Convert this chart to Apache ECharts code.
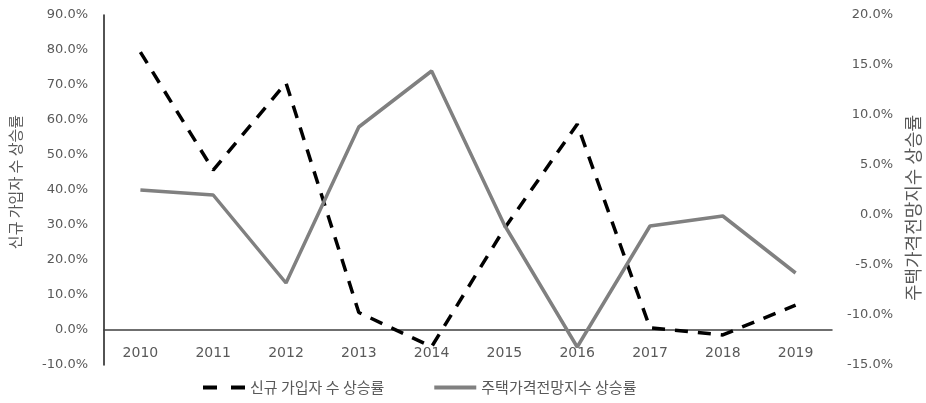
<!DOCTYPE html>
<html>
<head>
<meta charset="utf-8">
<script src="https://cdn.jsdelivr.net/npm/echarts@6/dist/echarts.min.js"></script>
<style>
html,body{margin:0;padding:0;background:#fff;}
#chart{width:926px;height:403px;}
</style>
</head>
<body>
<div id="chart"></div>
<script>
const categories = ['2010','2011','2012','2013','2014','2015','2016','2017','2018','2019'];
const seriesNames = ['신규 가입자 수 상승률', '주택가격전망지수 상승률'];
const subscriberGrowth = [79.4, 45.7, 70.6, 5.0, -4.8, 29.0, 58.8, 0.6, -1.4, 7.1];
const priceOutlookGrowth = [2.5, 2.0, -6.8, 8.8, 14.4, -1.0, -13.2, -1.1, -0.1, -5.8];
const leftTitle = '신규 가입자 수 상승률';
const rightTitle = '주택가격전망지수 상승률';

const chart = echarts.init(document.getElementById('chart'), null, {renderer: 'canvas'});
const numFont = 'DejaVu Sans';
const krFont = '"Noto Sans CJK KR", "Noto Sans", sans-serif';
chart.setOption({
  animation: false,
  backgroundColor: '#ffffff',
  grid: {left: 104, right: 94, top: 15, bottom: 38, containLabel: false, outerBoundsMode: 'none'},
  legend: {
    left: 203, top: 380, padding: 0,
    itemWidth: 42, itemHeight: 4, itemGap: 50,
    textStyle: {color: '#595959', fontSize: 15, fontFamily: krFont},
    data: [
      {name: seriesNames[0], icon: 'path://M0,0h14v4h-14z M28,0h14v4h-14z', itemStyle: {color: '#000000'}},
      {name: seriesNames[1], icon: 'path://M0,0h42v4h-42z', itemStyle: {color: '#808080'}}
    ]
  },
  xAxis: {
    type: 'category',
    data: categories,
    axisLine: {onZero: true, lineStyle: {color: '#404040', width: 1.5}},
    axisTick: {show: false},
    axisLabel: {color: '#595959', fontSize: 14, fontFamily: numFont, margin: -19}
  },
  yAxis: [
    {
      type: 'value', min: -10, max: 90, interval: 10,
      name: leftTitle, nameLocation: 'middle', nameRotate: 90, nameGap: 81,
      nameTextStyle: {color: '#595959', fontSize: 15, fontFamily: krFont, padding: [0, 0, 0, 16]},
      axisLine: {show: true, lineStyle: {color: '#1a1a1a', width: 1.5}},
      axisTick: {show: false},
      splitLine: {show: false},
      axisLabel: {color: '#595959', fontSize: 13, fontFamily: numFont, margin: 16,
        formatter: v => v.toFixed(1) + '%'}
    },
    {
      type: 'value', min: -15, max: 20, interval: 5,
      name: rightTitle, nameLocation: 'middle', nameRotate: 90, nameGap: 72,
      nameTextStyle: {color: '#595959', fontSize: 18, fontFamily: krFont, padding: [0, 36, 0, 0]},
      axisLine: {show: false},
      axisTick: {show: false},
      splitLine: {show: false},
      axisLabel: {color: '#595959', fontSize: 13, fontFamily: numFont, margin: 61, align: 'right',
        formatter: v => v.toFixed(1) + '%'}
    }
  ],
  series: [
    {
      name: seriesNames[0], type: 'line', yAxisIndex: 0,
      data: subscriberGrowth, symbol: 'none',
      lineStyle: {color: '#000000', width: 3.5, type: [13, 10], cap: 'butt'},
      itemStyle: {color: '#000000'}
    },
    {
      name: seriesNames[1], type: 'line', yAxisIndex: 1,
      data: priceOutlookGrowth, symbol: 'none',
      lineStyle: {color: '#808080', width: 3.5},
      itemStyle: {color: '#808080'}
    }
  ]
});
</script>
</body>
</html>
